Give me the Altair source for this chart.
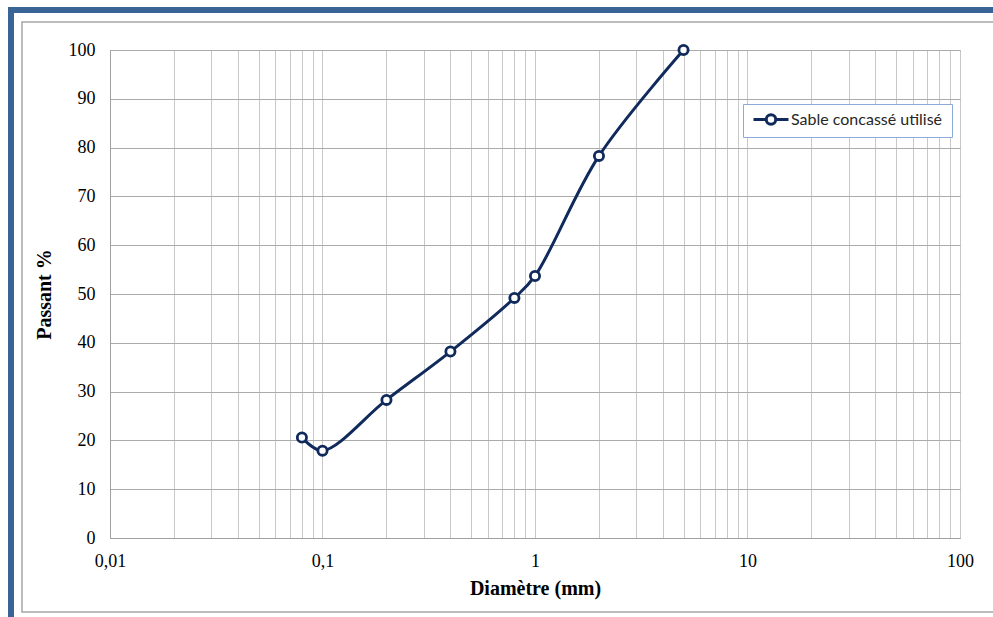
import altair as alt
import pandas as pd

# Sieve analysis of the crushed sand
series_name = "Sable concassé utilisé"
diameters_mm = [0.08, 0.1, 0.2, 0.4, 0.8, 1, 2, 5]
passing_pct = [20.6, 17.9, 28.3, 38.2, 49.2, 53.7, 78.3, 100]

# Axis ticks
x_decades = [0.01, 0.1, 1, 10, 100]
x_tick_labels = ["0,01", "0,1", "1", "10", "100"]
y_ticks = [0, 10, 20, 30, 40, 50, 60, 70, 80, 90, 100]

NAVY = "#102A5C"
FRAME_BLUE = "#3A6496"
FRAME_GRAY = "#A6A6A6"

# log grid: 1..9 within each decade
x_grid_values = []
for d in x_decades[:-1]:
    for m in range(1, 10):
        x_grid_values.append(round(m * d, 6))
x_grid_values.append(x_decades[-1])

label_expr = " : ".join(
    f"datum.value == {v} ? '{t}'" for v, t in zip(x_decades, x_tick_labels)
) + " : ''"

df = pd.DataFrame({"d": diameters_mm, "p": passing_pct, "serie": [series_name] * len(diameters_mm)})

W, H = 850, 488
PAD_L, PAD_T = 110, 50
PAD_R, PAD_B = 993 - PAD_L - W, 617 - PAD_T - H

x_enc = alt.X(
    "d:Q",
    scale=alt.Scale(type="log", domain=[0.01, 100], nice=False),
    axis=alt.Axis(
        values=x_grid_values,
        labelExpr=label_expr,
        title="Diamètre (mm)",
        grid=True,
        gridColor="#C8C8C8",
        ticks=False,
        labelPadding=14,
        titlePadding=8,
        labelFlush=False,
        labelOverlap=False,
    ),
)
y_enc = alt.Y(
    "p:Q",
    scale=alt.Scale(domain=[0, 100], nice=False),
    axis=alt.Axis(
        values=y_ticks,
        title="Passant %",
        grid=True,
        gridColor="#ABABAB",
        ticks=False,
        labelPadding=15,
        titlePadding=14,
    ),
)

legend_symbol = (
    "M-1,0H-0.27M0.27,0H1"
    "M-0.27,0A0.27,0.27,0,1,0,0.27,0A0.27,0.27,0,1,0,-0.27,0Z"
)

line = alt.Chart(df).mark_line(interpolate="catmull-rom", strokeWidth=3).encode(
    x=x_enc,
    y=y_enc,
    color=alt.Color(
        "serie:N",
        scale=alt.Scale(domain=[series_name], range=[NAVY]),
        legend=alt.Legend(
            title=None,
            orient="none",
            legendX=633,
            legendY=54,
            symbolType=legend_symbol,
            symbolSize=1225,
            symbolStrokeWidth=3,
            symbolFillColor="white",
            clipHeight=13,
            padding=9,
            labelOffset=1,
            strokeColor="#8EA9DB",
            fillColor="white",
            labelFont="Lato",
            labelFontSize=16,
            labelColor="#262626",
        ),
    ),
)

points = alt.Chart(df).mark_point(
    filled=True, fill="white", stroke=NAVY, strokeWidth=2.8, size=85, opacity=1
).encode(x="d:Q", y="p:Q")

one = pd.DataFrame({"k": [0]})
frame_gray = alt.Chart(one).mark_rect(fill=None, stroke=FRAME_GRAY, strokeWidth=1.5).encode(
    x=alt.value(22 - PAD_L), x2=alt.value(993 - PAD_L + 10),
    y=alt.value(22 - PAD_T), y2=alt.value(612 - PAD_T),
)
frame_left = alt.Chart(one).mark_rect(fill=FRAME_BLUE).encode(
    x=alt.value(8 - PAD_L), x2=alt.value(14 - PAD_L),
    y=alt.value(7 - PAD_T), y2=alt.value(617 - PAD_T),
)
frame_top = alt.Chart(one).mark_rect(fill=FRAME_BLUE).encode(
    x=alt.value(8 - PAD_L), x2=alt.value(993 - PAD_L),
    y=alt.value(7 - PAD_T), y2=alt.value(13 - PAD_T),
)

chart = (
    alt.layer(frame_gray, frame_left, frame_top, line, points)
    .properties(
        width=W,
        height=H,
        autosize=alt.AutoSizeParams(type="none"),
        padding={"left": PAD_L, "top": PAD_T, "right": PAD_R, "bottom": PAD_B},
        background="white",
    )
    .configure_view(stroke="#A6A6A6", strokeWidth=1)
    .configure_axis(
        domainColor="#A0A0A0",
        labelFont="Liberation Serif",
        labelFontSize=18,
        labelColor="#000000",
        titleFont="Liberation Serif",
        titleFontSize=20,
        titleFontWeight="bold",
        titleColor="#000000",
    )
)

chart.save("out.html", embed_options={"renderer": "svg", "actions": False})
